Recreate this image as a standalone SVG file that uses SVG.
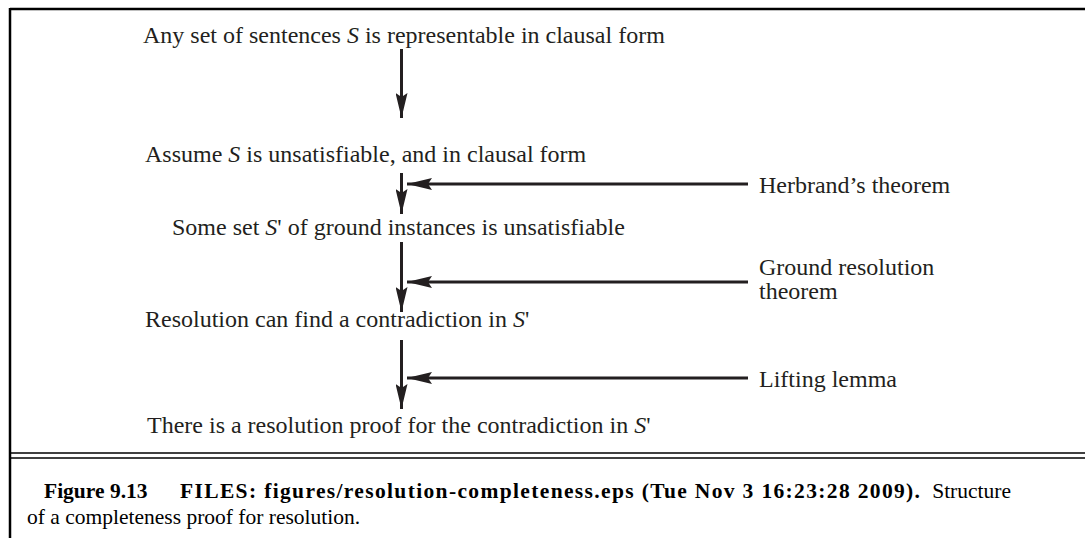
<svg xmlns="http://www.w3.org/2000/svg" width="1085" height="538" viewBox="0 0 1085 538">
<defs>
<marker id="ah" markerWidth="25" markerHeight="12" refX="25" refY="6" orient="auto" markerUnits="userSpaceOnUse">
<path d="M0,0 L25,6 L0,12 L4,6 Z" fill="#231f20"/>
</marker>
</defs>
<style>
.t{font-family:"Liberation Serif","Times New Roman",serif;font-size:24px;fill:#231f20}
.c{font-family:"Liberation Serif","Times New Roman",serif;font-size:21.5px;fill:#000}
.b{font-weight:bold}
.i{font-style:italic}
.a{stroke:#231f20;stroke-width:3;fill:none;marker-end:url(#ah)}
.f{stroke:#000;fill:none}
</style>
<rect width="1085" height="538" fill="#fff"/>
<g id="frame">
<line class="f" x1="10" y1="9" x2="1085" y2="9" stroke-width="2.5"/>
<line class="f" x1="10" y1="8" x2="10" y2="538" stroke-width="2.5"/>
<line class="f" x1="10" y1="453" x2="1085" y2="453" stroke-width="1.6"/>
<line class="f" x1="10" y1="458" x2="1085" y2="458" stroke-width="1.6"/>
</g>
<g id="connectors">
<line class="a" x1="401.5" y1="49" x2="401.5" y2="118"/>
<line class="a" x1="401.5" y1="173" x2="401.5" y2="214"/>
<line class="a" x1="401.5" y1="242" x2="401.5" y2="312"/>
<line class="a" x1="401.5" y1="340" x2="401.5" y2="409"/>
<line class="a" x1="748" y1="184" x2="407" y2="184"/>
<line class="a" x1="748" y1="282" x2="407" y2="282"/>
<line class="a" x1="748" y1="378" x2="407" y2="378"/>
</g>
<g id="n1"><text class="t" x="143" y="43">Any set of sentences <tspan class="i">S</tspan> is representable in clausal form</text></g>
<g id="n2"><text class="t" x="145" y="162">Assume <tspan class="i">S</tspan> is unsatisfiable, and in clausal form</text></g>
<g id="n3"><text class="t" x="172" y="235">Some set <tspan class="i">S</tspan>' of ground instances is unsatisfiable</text></g>
<g id="n4"><text class="t" x="145" y="327">Resolution can find a contradiction in <tspan class="i">S</tspan>'</text></g>
<g id="n5"><text class="t" x="147" y="433">There is a resolution proof for the contradiction in <tspan class="i">S</tspan>'</text></g>
<g id="l1"><text class="t" x="759" y="193">Herbrand’s theorem</text></g>
<g id="l2"><text class="t" x="759" y="275">Ground resolution</text><text class="t" x="759" y="299">theorem</text></g>
<g id="l3"><text class="t" x="759" y="387">Lifting lemma</text></g>
<g id="caption">
<text class="c b" x="44" y="498">Figure 9.13</text>
<text class="c b" x="180" y="498" textLength="740" lengthAdjust="spacing">FILES: figures/resolution-completeness.eps (Tue Nov 3 16:23:28 2009).</text>
<text class="c" x="1011" y="498" text-anchor="end">Structure</text>
<text class="c" x="27" y="524">of a completeness proof for resolution.</text>
</g>
</svg>
